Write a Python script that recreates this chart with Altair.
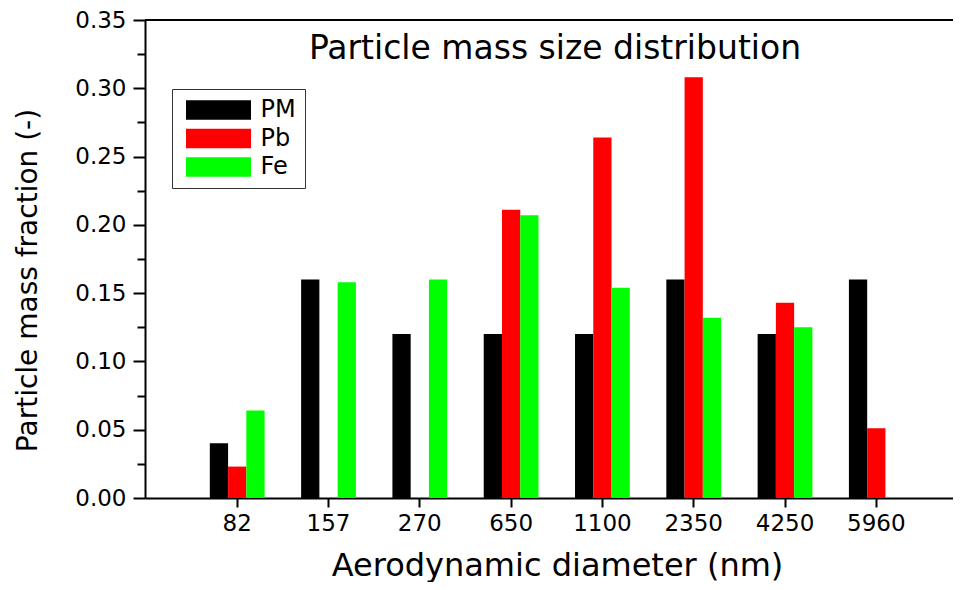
import altair as alt
import pandas as pd

# ---- data ----
sizes = ["82", "157", "270", "650", "1100", "2350", "4250", "5960"]
series = ["PM", "Pb", "Fe"]
pm = [0.040, 0.160, 0.120, 0.120, 0.120, 0.160, 0.120, 0.160]
pb = [0.023, 0.000, 0.000, 0.211, 0.264, 0.308, 0.143, 0.051]
fe = [0.064, 0.158, 0.160, 0.207, 0.154, 0.132, 0.125, 0.000]
colors = ["#000000", "#FF0000", "#00FF00"]
y_major = [0.00, 0.05, 0.10, 0.15, 0.20, 0.25, 0.30, 0.35]
y_minor = [0.025, 0.075, 0.125, 0.175, 0.225, 0.275, 0.325]

rows = []
for name, vals in zip(series, [pm, pb, fe]):
    for s, v in zip(sizes, vals):
        rows.append({"size": s, "series": name, "value": v})
df = pd.DataFrame(rows)

FONT = "DejaVu Sans"

bars = alt.Chart(df).mark_bar(stroke=None).encode(
    x=alt.X(
        "size:N",
        sort=sizes,
        scale=alt.Scale(paddingInner=0, paddingOuter=0.425, align=0.6),
        axis=alt.Axis(
            title="Aerodynamic diameter (nm)",
            labelAngle=0,
            labelFont=FONT,
            labelFontSize=23,
            labelColor="black",
            labelPadding=5,
            tickSize=9,
            tickWidth=2,
            tickColor="black",
            domainWidth=2,
            domainColor="black",
            titleFont=FONT,
            titleFontSize=32,
            titleFontWeight="normal",
            titleColor="black",
            titleX=412,
            titleY=77,
            titleAlign="center",
            titleBaseline="alphabetic",
        ),
    ),
    xOffset=alt.XOffset(
        "series:N",
        sort=series,
        scale=alt.Scale(domain=series, paddingInner=0, paddingOuter=1.0),
    ),
    y=alt.Y(
        "value:Q",
        scale=alt.Scale(domain=[0, 0.35], nice=False, zero=True),
        axis=alt.Axis(
            title="Particle mass fraction (-)",
            orient="left",
            values=y_major,
            format=".2f",
            labelFont=FONT,
            labelFontSize=23,
            labelColor="black",
            labelPadding=7,
            tickSize=12,
            tickWidth=2,
            tickColor="black",
            domainWidth=2,
            domainColor="black",
            grid=False,
            titleFont=FONT,
            titleFontSize=28,
            titleFontWeight="normal",
            titleColor="black",
            titleAngle=270,
            titleX=-109,
            titleY=260,
            titleAlign="center",
            titleBaseline="alphabetic",
        ),
    ),
    color=alt.Color(
        "series:N",
        sort=series,
        scale=alt.Scale(domain=series, range=colors),
        legend=alt.Legend(
            title=None,
            orient="none",
            legendX=27,
            legendY=69,
            symbolType="M-2.708,-0.8125H2.708V0.8125H-2.708Z",
            symbolSize=576,
            symbolStrokeWidth=0,
            symbolOffset=25.5,
            labelFont=FONT,
            labelFontSize=24,
            labelColor="black",
            labelOffset=30,
            rowPadding=4.5,
            padding=9,
            strokeColor="#333333",
            fillColor="white",
        ),
    ),
)

top_line = alt.Chart(df).mark_rule(color="black", strokeWidth=2).encode(
    y=alt.datum(
        0.35,
        type="quantitative",
        axis=alt.Axis(
            title=None,
            orient="left",
            values=y_minor,
            labels=False,
            domain=False,
            grid=False,
            tickSize=8,
            tickWidth=2,
            tickColor="black",
        ),
    )
)

chart = (
    alt.layer(bars, top_line)
    .resolve_scale(y="shared")
    .resolve_axis(y="independent")
    .properties(
        width=808,
        height=478,
        autosize="none",
        padding={"left": 137, "top": 12, "right": 0, "bottom": 84},
        title=alt.TitleParams(
            "Particle mass size distribution",
            font=FONT,
            fontSize=33,
            fontWeight="normal",
            color="black",
            anchor="middle",
            frame="group",
            baseline="alphabetic",
            offset=0,
            dx=6,
            dy=83,
        ),
    )
    .configure_view(stroke=None)
    .configure(background="white")
)

chart.save("out.html", embed_options={"renderer": "svg", "actions": False})
